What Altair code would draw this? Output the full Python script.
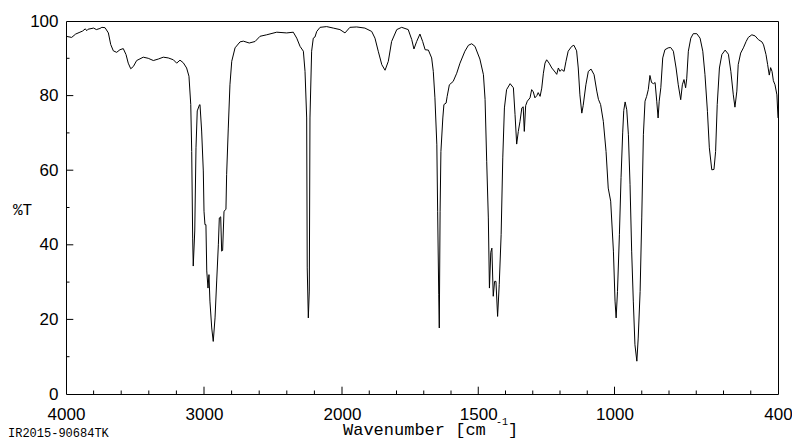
import altair as alt
import pandas as pd

# ---- spectrum (wavenumber in cm-1, %T) ----
wavenumber = [
    4000, 3959, 3930, 3899, 3880, 3860, 3850, 3840, 3800, 3780, 3754, 3740, 3717,
    3693, 3676, 3657, 3633, 3609, 3585, 3565, 3549, 3531, 3512, 3488, 3440, 3404,
    3367, 3331, 3295, 3259, 3222, 3198, 3174, 3150, 3126, 3109, 3096, 3089, 3082,
    3078, 3067, 3058, 3049, 3033, 3029, 3017, 3005, 3000, 2993, 2986, 2980, 2971,
    2964, 2957, 2944, 2933, 2920, 2908, 2896, 2889, 2879, 2872, 2865, 2855, 2841,
    2836, 2824, 2812, 2799, 2775, 2739, 2715, 2672, 2630, 2594, 2546, 2473, 2401,
    2353, 2328, 2304, 2280, 2268, 2256, 2252, 2244, 2237, 2232, 2220, 2208, 2196,
    2183, 2159, 2111, 2063, 2015, 1989, 1971, 1946, 1916, 1891, 1879, 1867, 1854,
    1842, 1830, 1818, 1799, 1781, 1757, 1744, 1736, 1726, 1714, 1704, 1695, 1683,
    1671, 1665, 1659, 1652, 1649, 1645, 1643, 1640, 1637, 1630, 1626, 1618, 1614,
    1606, 1592, 1579, 1567, 1549, 1536, 1524, 1512, 1494, 1481, 1475, 1469, 1463,
    1459, 1454, 1450, 1445, 1440, 1435, 1429, 1423, 1416, 1410, 1404, 1396, 1383,
    1371, 1365, 1359, 1353, 1347, 1340, 1335, 1331, 1326, 1320, 1310, 1304, 1298,
    1292, 1285, 1280, 1273, 1267, 1261, 1255, 1249, 1240, 1230, 1218, 1212, 1206,
    1200, 1194, 1185, 1178, 1170, 1157, 1149, 1139, 1133, 1127, 1120, 1115, 1105,
    1096, 1086, 1075, 1065, 1059, 1051, 1041, 1031, 1023, 1014, 1004, 998, 994,
    989, 982, 976, 970, 966, 961, 955, 949, 943, 937, 931, 925, 918, 913, 906,
    900, 894, 888, 882, 876, 870, 864, 857, 851, 845, 840, 836, 830, 823, 815,
    803, 794, 784, 774, 766, 757, 751, 745, 739, 735, 729, 720, 711, 698, 686, 676,
    668, 659, 652, 643, 635, 629, 623, 615, 606, 594, 582, 573, 564, 558, 551,
    546, 537, 527, 517, 509, 496, 484, 472, 459, 453, 444, 438, 432, 427, 422,
    417, 411, 404, 400,
]
transmittance = [
    95.9, 95.6, 96.5, 97.0, 97.3, 97.9, 97.4, 97.8, 98.1, 97.7, 98.0, 98.3, 98.2,
    96.8, 93.7, 92.0, 91.6, 92.3, 92.6, 91.0, 88.7, 87.2, 87.8, 89.4, 90.3, 90.0,
    89.4, 89.8, 90.3, 90.1, 89.6, 88.7, 89.5, 88.8, 87.4, 85.2, 77.6, 65.0, 41.8,
    34.3, 43.7, 66.0, 75.9, 77.5, 77.6, 70.5, 59.8, 49.0, 45.4, 45.4, 33.0, 28.4,
    32.0, 24.9, 17.7, 14.1, 20.4, 30.3, 40.0, 47.2, 47.5, 38.3, 38.5, 49.0, 49.5,
    58.8, 71.3, 82.9, 89.2, 92.8, 94.4, 94.6, 94.1, 94.5, 95.9, 96.3, 97.0, 96.8,
    97.0, 95.4, 93.2, 91.9, 86.5, 74.0, 33.8, 20.4, 27.6, 74.0, 91.9, 95.4, 95.7,
    97.2, 98.3, 98.5, 98.1, 97.7, 96.8, 98.3, 98.4, 98.1, 97.2, 95.4, 91.9, 88.3,
    86.8, 89.2, 94.5, 97.7, 98.3, 97.7, 95.0, 92.5, 94.5, 96.5, 94.5, 92.3, 92.2,
    90.1, 86.5, 79.4, 66.8, 49.0, 26.6, 17.7, 49.0, 65.0, 74.0, 77.6, 78.0, 79.8,
    82.9, 83.8, 86.0, 88.7, 91.9, 93.5, 93.9, 93.2, 89.8, 85.6, 79.0, 62.4, 47.2,
    28.4, 38.0, 39.1, 26.2, 30.2, 30.2, 20.8, 29.3, 42.7, 63.3, 76.7, 81.6, 83.2,
    82.1, 74.9, 67.0, 70.4, 73.0, 76.7, 77.0, 70.4, 77.3, 78.5, 79.4, 81.6, 81.0,
    79.4, 80.0, 80.8, 79.8, 82.0, 86.0, 88.7, 89.6, 88.7, 87.4, 86.3, 85.7, 87.4,
    86.5, 87.0, 86.5, 89.2, 91.9, 93.2, 93.5, 92.0, 87.4, 80.2, 75.3, 77.3, 82.9,
    86.5, 87.1, 85.6, 81.2, 79.0, 77.6, 73.1, 65.0, 55.2, 51.7, 38.3, 24.9, 20.4,
    27.5, 42.7, 58.0, 70.0, 76.0, 78.3, 76.2, 69.5, 56.1, 38.3, 24.9, 13.2, 8.8,
    15.0, 27.5, 47.2, 69.5, 78.5, 79.8, 81.6, 85.4, 83.5, 83.2, 83.5, 78.5, 74.0,
    78.5, 82.1, 90.1, 92.3, 92.8, 92.9, 91.9, 87.4, 82.9, 78.9, 82.9, 84.3, 82.1,
    84.5, 91.9, 95.4, 96.6, 96.6, 95.4, 91.9, 85.6, 75.8, 66.0, 60.1, 60.2, 65.0,
    77.6, 87.4, 91.0, 92.2, 91.1, 86.5, 80.2, 76.9, 81.2, 88.3, 91.4, 92.8, 94.5,
    95.6, 96.3, 96.0, 95.0, 94.4, 93.6, 91.0, 88.3, 85.5, 87.5, 86.5, 84.0, 82.9,
    80.2, 74.0,
]

x_labels = [4000, 3000, 2000, 1500, 1000, 400]
x_major_ticks = [3000, 2000, 1500, 1000]
x_minor_ticks = [3800, 3600, 3400, 3200, 2800, 2600, 2400, 2200,
                 1900, 1800, 1700, 1600, 1400, 1300, 1200, 1100,
                 900, 800, 700, 600, 500]
y_labels = [0, 20, 40, 60, 80, 100]
y_major_ticks = [20, 40, 60, 80]
y_minor_ticks = [10, 30, 50, 70, 90]

W, H = 712, 373
SANS = "Liberation Sans"
MONO = "Liberation Mono"

spec_df = pd.DataFrame({"wn": wavenumber, "t": transmittance})
spec_df["idx"] = range(len(spec_df))

xscale = alt.Scale(domain=[4000, 2000, 400], range=[0, 276, W], nice=False, zero=False)
yscale = alt.Scale(domain=[0, 100], nice=False, zero=False)

x_axis = alt.Axis(values=x_labels, title=None, ticks=False, tickSize=0, domain=False,
                  grid=False, labelFont=SANS, labelFontSize=17, labelColor="black",
                  labelPadding=12, labelFlush=False, labelOverlap=False, format="d")
y_axis = alt.Axis(values=y_labels, title=None, ticks=False, tickSize=0, domain=False,
                  grid=False, labelFont=SANS, labelFontSize=17, labelColor="black",
                  labelPadding=8, labelOverlap=False, format="d")


def X():
    return alt.X("wn:Q", scale=xscale, axis=x_axis)


def Y():
    return alt.Y("t:Q", scale=yscale, axis=y_axis)


line = alt.Chart(spec_df).mark_line(color="black", strokeWidth=1).encode(
    x=X(), y=Y(), order=alt.Order("idx:Q")
)

xmaj = alt.Chart(pd.DataFrame({"wn": x_major_ticks})).mark_rule(color="black", strokeWidth=1).encode(
    x=X(), y=alt.value(H), y2=alt.value(H - 7.3))
xmin = alt.Chart(pd.DataFrame({"wn": x_minor_ticks})).mark_rule(color="black", strokeWidth=1).encode(
    x=X(), y=alt.value(H), y2=alt.value(H - 3.5))
ymaj = alt.Chart(pd.DataFrame({"t": y_major_ticks})).mark_rule(color="black", strokeWidth=1).encode(
    y=Y(), x=alt.value(0), x2=alt.value(7.3))
ymin = alt.Chart(pd.DataFrame({"t": y_minor_ticks})).mark_rule(color="black", strokeWidth=1).encode(
    y=Y(), x=alt.value(0), x2=alt.value(3.5))


def label(text, x, y, size, font=MONO):
    return alt.Chart(pd.DataFrame({"s": [text]})).mark_text(
        font=font, fontSize=size, align="left", baseline="alphabetic", color="black"
    ).encode(text="s:N", x=alt.value(x), y=alt.value(y))


texts = [
    label("%T", -53, 194, 16),
    label("Wavenumber [cm", 277, 414, 17),
    label("-1", 430, 404, 10),
    label("]", 442, 414, 17),
    label("IR2015-90684TK", -58, 415.5, 12),
]

chart = alt.layer(line, xmaj, xmin, ymaj, ymin, *texts).properties(
    width=W, height=H,
    padding={"left": 58, "top": 13, "right": 14, "bottom": 47},
    autosize=alt.AutoSizeParams(type="none"),
).configure_view(stroke="black", strokeWidth=1)

chart.save("out.html", embed_options={"renderer": "svg", "actions": False})
